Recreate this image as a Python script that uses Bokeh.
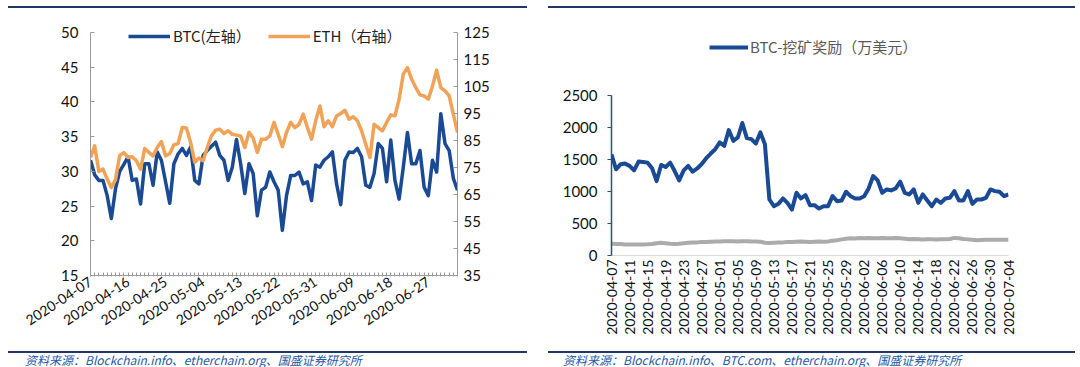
import numpy as np
import pandas as pd
from math import radians, pi
from bokeh.plotting import figure
from bokeh.models import (Range1d, LinearAxis, FixedTicker, Legend, LegendItem, ColumnDataSource, Div)
from bokeh.layouts import row, column
from bokeh.embed import file_html
from bokeh.resources import INLINE

# ---------------- data ----------------
dates = [d.strftime("%Y-%m-%d") for d in pd.date_range("2020-04-07", "2020-07-04")]

btc_left = [31.6, 29.5, 28.7, 28.7, 26.5, 23.2, 27.5, 30.0, 31.0, 32.1,
            28.7, 28.9, 25.3, 31.1, 31.1, 28.0, 32.8, 31.6, 28.5, 25.4,
            31.1, 32.5, 33.3, 32.3, 33.5, 28.7, 28.2, 32.3, 33.0, 33.6,
            34.2, 32.3, 31.6, 28.7, 30.6, 34.6, 31.1, 26.8, 31.1, 29.7,
            23.6, 27.3, 27.7, 29.9, 28.5, 27.3, 21.5, 26.5, 29.4, 29.4,
            29.9, 28.2, 28.5, 25.8, 30.9, 30.6, 31.6, 32.1, 32.8, 28.2,
            25.2, 31.6, 32.8, 32.7, 33.3, 32.1, 28.0, 27.7, 29.7, 34.0,
            33.3, 28.5, 34.5, 28.7, 26.0, 30.6, 35.6, 31.1, 31.1, 33.0,
            27.7, 26.5, 31.6, 29.9, 38.3, 34.0, 33.0, 29.0, 27.3]

eth_right = [78.7, 83.0, 73.5, 74.4, 70.7, 67.6, 70.5, 79.5, 80.5, 78.7,
             79.0, 77.5, 74.4, 82.0, 80.6, 79.3, 82.4, 84.6, 79.3, 80.2,
             83.4, 83.9, 89.8, 89.6, 84.3, 76.9, 78.5, 77.5, 82.4, 86.7,
             88.8, 89.2, 87.6, 88.6, 87.3, 87.0, 86.7, 82.4, 88.0, 85.9,
             80.6, 85.5, 85.5, 86.7, 91.7, 87.3, 82.7, 88.0, 91.7, 89.8,
             91.0, 94.8, 89.8, 85.5, 92.3, 97.8, 90.1, 92.3, 90.1, 94.1,
             95.0, 96.2, 92.9, 93.8, 92.3, 88.6, 83.6, 78.7, 91.0, 89.8,
             88.6, 91.7, 94.5, 94.1, 100.3, 109.6, 112.0, 107.7, 104.6, 101.9,
             101.5, 100.3, 105.2, 111.0, 104.6, 103.4, 101.5, 94.8, 88.0]

btc_reward = [1582, 1347, 1425, 1436, 1400, 1331, 1467, 1462, 1451, 1362,
              1163, 1415, 1383, 1451, 1320, 1174, 1331, 1400, 1310, 1360,
              1430, 1520, 1593, 1661, 1766, 1714, 1960, 1792, 1844, 2070,
              1834, 1818, 1750, 1923, 1740, 875, 770, 807, 891, 823,
              718, 980, 891, 943, 786, 786, 734, 770, 770, 927,
              849, 860, 996, 927, 891, 891, 927, 1048, 1242, 1174,
              980, 1032, 1017, 1048, 1153, 980, 954, 1032, 823, 954,
              860, 770, 875, 823, 891, 901, 1006, 860, 860, 1006,
              807, 875, 875, 901, 1032, 1006, 996, 927, 954]

eth_reward = [185, 180, 178, 172, 170, 170, 170, 172, 175, 180,
              190, 200, 192, 182, 180, 185, 192, 198, 202, 205,
              210, 212, 215, 218, 220, 222, 224, 222, 220, 224,
              222, 218, 220, 215, 200, 195, 198, 202, 205, 210,
              212, 215, 218, 215, 212, 215, 218, 215, 220, 232,
              240, 252, 262, 270, 265, 272, 270, 272, 268, 270,
              272, 270, 268, 272, 270, 262, 255, 258, 255, 250,
              252, 255, 250, 252, 255, 258, 275, 268, 258, 252,
              245, 240, 242, 245, 245, 248, 245, 245, 248]

left_tick_labels = ["2020-04-07", "2020-04-16", "2020-04-25", "2020-05-04", "2020-05-13",
                    "2020-05-22", "2020-05-31", "2020-06-09", "2020-06-18", "2020-06-27"]
right_tick_labels = ["2020-04-07", "2020-04-11", "2020-04-15", "2020-04-19", "2020-04-23",
                     "2020-04-27", "2020-05-01", "2020-05-05", "2020-05-09", "2020-05-13",
                     "2020-05-17", "2020-05-21", "2020-05-25", "2020-05-29", "2020-06-02",
                     "2020-06-06", "2020-06-10", "2020-06-14", "2020-06-18", "2020-06-22",
                     "2020-06-26", "2020-06-30", "2020-07-04"]
left_y_ticks = [15, 20, 25, 30, 35, 40, 45, 50]
right_y_ticks = [35, 45, 55, 65, 75, 85, 95, 105, 115, 125]
reward_ticks = [0, 500, 1000, 1500, 2000, 2500]

legend_left = ["BTC(左轴）", "ETH（右轴）"]
legend_right = "BTC-挖矿奖励（万美元）"
source_left = "资料来源：Blockchain.info、etherchain.org、国盛证券研究所"
source_right = "资料来源：Blockchain.info、BTC.com、etherchain.org、国盛证券研究所"

# ---------------- style ----------------
W, H = 540, 340          # each chart figure (page y 8..348)
TOP_H, FOOT_H = 8, 19    # header / footer strips
NAVY = "#203864"
BTC_COL = "#1A4A94"
ETH_COL = "#F0A256"
GRAY = "#ABABAB"
AX_GRAY = "#9A9A9A"
NUM_FONT = "Lato"
CJK = "Noto Sans CJK SC"

idx = list(range(len(dates)))
src = ColumnDataSource(dict(x=idx, btc=btc_left, eth=eth_right,
                            rew=btc_reward, ethrew=eth_reward))


def base_fig(**kw):
    p = figure(width=W, height=H, output_backend="svg", toolbar_location=None, **kw)
    p.outline_line_color = None
    p.background_fill_color = "white"
    p.border_fill_color = "white"
    p.xgrid.visible = False
    p.ygrid.visible = False
    return p


def style_axis(ax, size="15px"):
    ax.minor_tick_line_color = None
    ax.major_label_text_font = NUM_FONT
    ax.major_label_text_font_size = size
    ax.major_label_text_color = "#111111"


# ---------------- left chart ----------------
# frame: page y 20..275; axis values 50 / 125 sit 12 px below the frame top
lpx = (left_y_ticks[-1] - left_y_ticks[0]) / 243.0
rpx = (right_y_ticks[-1] - right_y_ticks[0]) / 243.0
pL = base_fig(x_range=Range1d(0, len(dates) - 1),
              y_range=Range1d(left_y_ticks[0], left_y_ticks[-1] + 12 * lpx),
              min_border_left=90, min_border_right=83, min_border_top=12, min_border_bottom=73)
pL.extra_y_ranges = {"eth": Range1d(right_y_ticks[0], right_y_ticks[-1] + 12 * rpx)}

pL.yaxis.ticker = FixedTicker(ticks=left_y_ticks)
pL.yaxis.bounds = (left_y_ticks[0], left_y_ticks[-1])
pL.yaxis.major_tick_in = 4
pL.yaxis.major_tick_out = 0
pL.yaxis.major_label_standoff = 12
pL.yaxis.axis_line_color = AX_GRAY
pL.yaxis.major_tick_line_color = AX_GRAY
style_axis(pL.yaxis[0])

axr = LinearAxis(y_range_name="eth", ticker=FixedTicker(ticks=right_y_ticks),
                 bounds=(right_y_ticks[0], right_y_ticks[-1]))
axr.major_tick_in = 4
axr.major_tick_out = 0
axr.major_label_standoff = 6
axr.axis_line_color = AX_GRAY
axr.major_tick_line_color = AX_GRAY
style_axis(axr)
pL.add_layout(axr, "right")

pL.xaxis.ticker = FixedTicker(ticks=idx)
pL.xaxis.major_label_overrides = {i: (d if d in left_tick_labels else "") for i, d in enumerate(dates)}
pL.xaxis.major_label_orientation = radians(33)
pL.xaxis.major_tick_in = 3
pL.xaxis.major_tick_out = 1
pL.xaxis.major_label_standoff = 4
pL.xaxis.axis_line_color = AX_GRAY
pL.xaxis.major_tick_line_color = AX_GRAY
style_axis(pL.xaxis[0], "14px")

r_btc = pL.line("x", "btc", source=src, line_color=BTC_COL, line_width=3.5, line_join="round")
r_eth = pL.line("x", "eth", source=src, y_range_name="eth", line_color=ETH_COL, line_width=3.5,
                line_join="round")

legL = Legend(items=[LegendItem(label=legend_left[0], renderers=[r_btc]),
                     LegendItem(label=legend_left[1], renderers=[r_eth])],
              location=(38, 229), orientation="horizontal", background_fill_alpha=0,
              border_line_color=None, glyph_width=42, glyph_height=20, label_standoff=3,
              spacing=17, padding=2, margin=0, label_text_font=CJK,
              label_text_font_size="15px", label_text_color="#222222")
pL.add_layout(legL)

# ---------------- right chart ----------------
# frame: page y 32..255; value 0 at y=255 and 2500 at y=95 (160 px)
px = reward_ticks[-1] / 160.0
pR = base_fig(x_range=Range1d(0, len(dates) - 1),
              y_range=Range1d(reward_ticks[0], reward_ticks[-1] + 63 * px),
              min_border_left=71, min_border_right=72, min_border_top=24, min_border_bottom=93)

pR.yaxis.ticker = FixedTicker(ticks=reward_ticks)
pR.yaxis.bounds = (reward_ticks[0], reward_ticks[-1])
pR.yaxis.major_tick_out = 4
pR.yaxis.major_tick_in = 0
pR.yaxis.major_label_standoff = 10
pR.yaxis.axis_line_color = "#2E4D86"
pR.yaxis.axis_line_width = 1.5
pR.yaxis.major_tick_line_color = "#2E4D86"
style_axis(pR.yaxis[0])

pR.xaxis.ticker = FixedTicker(ticks=[dates.index(d) for d in right_tick_labels])
pR.xaxis.major_label_overrides = {dates.index(d): d for d in right_tick_labels}
pR.xaxis.major_label_orientation = pi / 2
pR.xaxis.major_tick_in = 0
pR.xaxis.major_tick_out = 0
pR.xaxis.major_label_standoff = 4
pR.xaxis.axis_line_color = "#D9D9D9"
style_axis(pR.xaxis[0], "14px")

pR.line("x", "ethrew", source=src, line_color=GRAY, line_width=4, line_join="round")
r_rew = pR.line("x", "rew", source=src, line_color=BTC_COL, line_width=4, line_join="round")

legR = Legend(items=[LegendItem(label=legend_right, renderers=[r_rew])],
              location=(98, 198), orientation="horizontal", background_fill_alpha=0,
              border_line_color=None, glyph_width=39, glyph_height=20, label_standoff=2,
              padding=2, margin=0, label_text_font=CJK, label_text_font_size="15px",
              label_text_color="#595959")
pR.add_layout(legR)

# ---------------- header / footer strips ----------------
def bar(left, top, width):
    return (f'<div style="position:absolute;left:{left}px;top:{top}px;width:{width}px;'
            f'height:2px;background:{NAVY}"></div>')


def note(left, top, txt):
    return (f'<div style="position:absolute;left:{left}px;top:{top}px;white-space:nowrap;'
            f'font-family:\'{CJK}\';font-size:12px;line-height:12px;font-style:italic;'
            f'color:#2458A6">{txt}</div>')


top_html = ('<div style="position:relative;width:1080px;height:8px;overflow:hidden">'
            + bar(8, 2, 519) + bar(548, 2, 527) + '</div>')
foot_html = ('<div style="position:relative;width:1080px;height:19px;overflow:hidden">'
             + bar(8, 3, 519) + bar(548, 3, 527)
             + note(25, 6, source_left) + note(563, 6, source_right) + '</div>')

top_div = Div(text=top_html, width=1080, height=TOP_H, margin=0)
foot_div = Div(text=foot_html, width=1080, height=FOOT_H, margin=0)

# each chart wrapped in its own column so the two frames are laid out independently
page = column(top_div, row(column(pL), column(pR)), foot_div)

open("out.html", "w").write(file_html(page, INLINE))
